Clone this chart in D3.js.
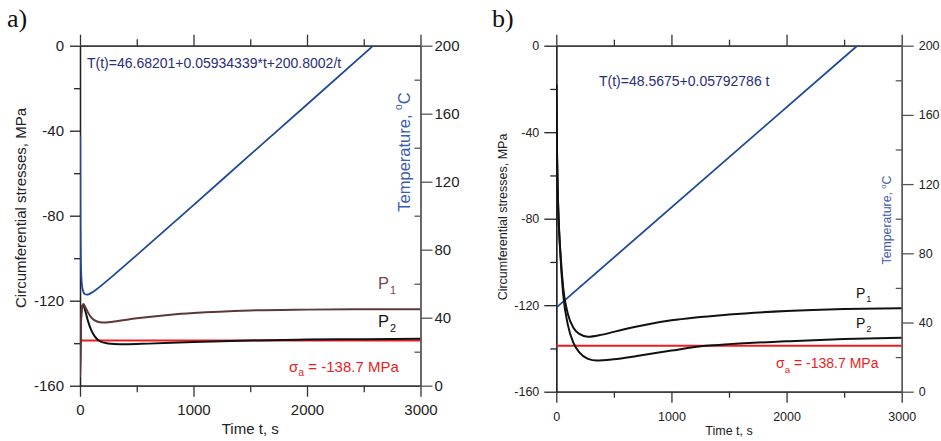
<!DOCTYPE html>
<html>
<head>
<meta charset="utf-8">
<script src="https://cdn.jsdelivr.net/npm/d3@7"></script>
<style>
  html, body { margin: 0; padding: 0; background: #fff; }
  svg { display: block; font-family: "Liberation Sans", Arial, sans-serif; }
</style>
</head>
<body>
<svg id="chart" width="941" height="441"></svg>
<script>
// ---- tick values ----
const timeMajor = [0, 1000, 2000, 3000];
const timeMinor = [500, 1500, 2500];
const stressMajor = [-160, -120, -80, -40, 0];
const stressMinor = [-140, -100, -60, -20];
const tempMajor = [0, 40, 80, 120, 160, 200];
const tempMinor = [20, 60, 100, 140, 180];

// allowable stress level, MPa
const sigmaA = -138.7;

// ---- panel a: temperature (°C) vs time (s) ----
const aTempTime = [2, 4, 7, 10, 15, 20, 30, 45, 60, 80, 100, 150, 200, 300, 500, 1000, 1500, 2000, 2584];
const aTemp     = [147.2, 97.1, 75.8, 67.3, 61.0, 57.9, 55.2, 53.8, 53.6, 53.9, 54.6, 56.9, 59.6, 65.2, 76.8, 106.2, 135.9, 165.4, 200];

// panel a: circumferential stresses (MPa)
const aP1Time = [0, 5, 10, 20, 30, 45, 70, 100, 150, 200, 300, 500, 800, 1000, 1500, 2000, 2500, 3000];
const aP1     = [-156, -140, -128, -122.5, -121.6, -122.8, -125.5, -128, -129.8, -130.3, -129.8, -128.3, -126.6, -125.8, -124.6, -124.2, -124.0, -124.0];
const aP2Time = [0, 5, 10, 20, 30, 45, 70, 100, 130, 160, 200, 300, 400, 600, 1000, 1500, 2000, 2500, 3000];
const aP2     = [-156, -140, -128, -122.5, -122.2, -124.5, -129.5, -134, -136.8, -138.5, -139.6, -140.4, -140.5, -140.2, -139.4, -138.7, -138.3, -138.1, -137.9];

// ---- panel b: temperature (°C) vs time (s) ----
const bTempTime = [0, 2614];
const bTemp     = [48.6, 200];

// panel b: circumferential stresses (MPa)
const bP1Time = [0, 3, 7, 12, 20, 35, 60, 100, 150, 200, 275, 400, 600, 800, 1000, 1500, 2000, 2500, 3000];
const bP1     = [-18, -35, -52, -66, -80, -95, -112, -124, -130.5, -133.3, -134.6, -133.6, -131, -128.8, -127, -124.3, -122.7, -121.8, -121.4];
const bP2Time = [0, 3, 7, 12, 20, 35, 60, 100, 150, 200, 275, 350, 500, 700, 1000, 1300, 1500, 2000, 2500, 3000];
const bP2     = [-18, -35, -52, -66, -80, -96, -115, -129, -137.5, -141.8, -144.8, -145.6, -145, -143.5, -141, -138.8, -138, -136.7, -135.6, -135];

// ---- drawing ----
const svg = d3.select("#chart");
svg.append("rect").attr("width", 941).attr("height", 441).attr("fill", "#fff");

const zip = (ts, vs) => ts.map((t, i) => [t, vs[i]]);
const plain = d => String(d);   // plain integers with ASCII hyphen

function drawPanel(cfg) {
  const x = d3.scaleLinear().domain([0, 3000]).range([cfg.left, cfg.right]);
  const y = d3.scaleLinear().domain([-160, 0]).range([cfg.bottom, cfg.top]);
  const yT = d3.scaleLinear().domain([0, 200]).range([cfg.bottom, cfg.top]);
  const g = svg.append("g");

  const clipId = "clip-" + cfg.name;
  svg.append("clipPath").attr("id", clipId)
    .append("rect").attr("x", cfg.left).attr("y", cfg.top)
    .attr("width", cfg.right - cfg.left).attr("height", cfg.bottom - cfg.top);

  const styleAxis = (sel, color) => {
    sel.selectAll("path.domain").attr("stroke", color).attr("stroke-width", 1.3);
    sel.selectAll(".tick line").attr("stroke", color).attr("stroke-width", 1.3);
    sel.selectAll(".tick text").attr("fill", "#222")
      .style("font-family", '"Liberation Sans", Arial, sans-serif')
      .style("font-size", cfg.tickFont + "px");
  };

  // bottom axis
  g.append("g").attr("transform", `translate(0,${cfg.bottom})`)
    .call(d3.axisBottom(x).tickValues(timeMajor).tickFormat(plain).tickSize(cfg.majX).tickSizeOuter(0).tickPadding(cfg.padX))
    .call(s => styleAxis(s, "#333"));
  g.append("g").attr("transform", `translate(0,${cfg.bottom})`)
    .call(d3.axisBottom(x).tickValues(timeMinor).tickSize(cfg.minX).tickSizeOuter(0).tickFormat(""))
    .call(s => styleAxis(s, "#333"));
  // top axis
  g.append("g").attr("transform", `translate(0,${cfg.top})`)
    .call(d3.axisTop(x).tickValues(timeMajor).tickSize(cfg.majX).tickSizeOuter(0).tickFormat(""))
    .call(s => styleAxis(s, "#333"));
  g.append("g").attr("transform", `translate(0,${cfg.top})`)
    .call(d3.axisTop(x).tickValues(timeMinor).tickSize(cfg.minX).tickSizeOuter(0).tickFormat(""))
    .call(s => styleAxis(s, "#333"));
  // left stress axis
  g.append("g").attr("transform", `translate(${cfg.left},0)`)
    .call(d3.axisLeft(y).tickValues(stressMajor).tickFormat(plain).tickSize(cfg.majY).tickSizeOuter(0).tickPadding(cfg.padL))
    .call(s => styleAxis(s, "#222"));
  g.append("g").attr("transform", `translate(${cfg.left},0)`)
    .call(d3.axisLeft(y).tickValues(stressMinor).tickSize(cfg.minY).tickSizeOuter(0).tickFormat(""))
    .call(s => styleAxis(s, "#222"));
  // right temperature axis (minor ticks point inward)
  g.append("g").attr("transform", `translate(${cfg.right},0)`)
    .call(d3.axisRight(yT).tickValues(tempMajor).tickFormat(plain).tickSize(cfg.majR).tickSizeOuter(0).tickPadding(cfg.padR))
    .call(s => styleAxis(s, "#555"));
  g.append("g").attr("transform", `translate(${cfg.right},0)`)
    .call(d3.axisLeft(yT).tickValues(tempMinor).tickSize(cfg.minY).tickSizeOuter(0).tickFormat(""))
    .call(s => styleAxis(s, "#555"));

  const plot = g.append("g").attr("clip-path", `url(#${clipId})`);
  const stressLine = d3.line().x(d => x(d[0])).y(d => y(d[1])).curve(d3.curveMonotoneX);
  const tempLine = d3.line().x(d => x(d[0])).y(d => yT(d[1])).curve(d3.curveMonotoneX);

  // temperature curve
  plot.append("path").datum(zip(cfg.tempTime, cfg.temp))
    .attr("fill", "none").attr("stroke", "#1f4a9a").attr("stroke-width", 1.8).attr("d", tempLine);
  // allowable stress
  plot.append("path").datum([[0, sigmaA], [3000, sigmaA]])
    .attr("fill", "none").attr("stroke", "#ec1c24").attr("stroke-width", 2).attr("d", stressLine);
  // stress curves
  plot.append("path").datum(zip(cfg.p2Time, cfg.p2))
    .attr("fill", "none").attr("stroke", "#111").attr("stroke-width", 2).attr("d", stressLine);
  plot.append("path").datum(zip(cfg.p1Time, cfg.p1))
    .attr("fill", "none").attr("stroke", cfg.p1Color).attr("stroke-width", 2).attr("d", stressLine);

  // axis titles
  g.append("text")
    .attr("transform", `translate(${cfg.yLabelX},${cfg.yLabelY}) rotate(-90)`)
    .attr("text-anchor", "middle").attr("dominant-baseline", "central")
    .attr("fill", "#222").style("font-size", cfg.titleFont + "px")
    .text("Circumferential stresses, MPa");
  g.append("text")
    .attr("x", (cfg.left + cfg.right) / 2).attr("y", cfg.xLabelY)
    .attr("text-anchor", "middle").attr("fill", "#222").style("font-size", cfg.titleFont + "px")
    .text("Time t, s");
  const tl = g.append("text")
    .attr("transform", `translate(${cfg.tLabelX},${cfg.tLabelY}) rotate(-90)`)
    .attr("text-anchor", "middle").attr("dominant-baseline", "central")
    .attr("fill", "#3a5bb0").style("font-size", cfg.tLabelFont + "px");
  tl.append("tspan").text("Temperature, ");
  tl.append("tspan").attr("dy", -cfg.tLabelFont * 0.35).style("font-size", (cfg.tLabelFont * 0.62) + "px").text("o");
  tl.append("tspan").attr("dy", cfg.tLabelFont * 0.35).text("C");

  // fitted temperature law
  g.append("text").attr("x", cfg.eqX).attr("y", cfg.eqY)
    .attr("fill", "#2a2d7c").style("font-size", cfg.eqFont + "px").text(cfg.eq);

  // series labels
  const pLabel = (sub, yy, color) => {
    const t = g.append("text").attr("x", cfg.pX).attr("y", yy)
      .attr("fill", color).style("font-size", cfg.pFont + "px");
    t.append("tspan").text("P");
    t.append("tspan").attr("dx", 1).attr("dy", cfg.pFont * 0.3)
      .style("font-size", (cfg.pFont * 0.66) + "px").text(sub);
  };
  pLabel("1", cfg.p1LabelY, cfg.p1LabelColor);
  pLabel("2", cfg.p2LabelY, "#111");

  const sl = g.append("text").attr("x", cfg.sX).attr("y", cfg.sY)
    .attr("fill", "#ec1c24").style("font-size", cfg.sFont + "px");
  sl.append("tspan").text("σ");
  sl.append("tspan").attr("dy", cfg.sFont * 0.3).style("font-size", (cfg.sFont * 0.7) + "px").text("a");
  sl.append("tspan").attr("dy", -cfg.sFont * 0.3).text(` = ${sigmaA} MPa`);

  // panel letter
  svg.append("text").attr("x", cfg.letterX).attr("y", 27)
    .style("font-family", '"Liberation Serif", "Times New Roman", serif')
    .style("font-size", "26px").attr("fill", "#111").text(cfg.letter);
}

drawPanel({
  name: "a", letter: "a)", letterX: 7,
  left: 80, right: 420.5, top: 45.7, bottom: 385.7,
  majX: 11, minX: 6.5, majY: 10, minY: 6, majR: 12, padX: 8, padL: 6, padR: 2,
  tickFont: 15, titleFont: 15,
  yLabelX: 20, yLabelY: 208, xLabelY: 434,
  tLabelX: 404, tLabelY: 152, tLabelFont: 16.5,
  eq: "T(t)=46.68201+0.05934339*t+200.8002/t", eqX: 87, eqY: 67.5, eqFont: 14,
  tempTime: aTempTime, temp: aTemp,
  p1Time: aP1Time, p1: aP1, p2Time: aP2Time, p2: aP2,
  p1Color: "#5e3838", p1LabelColor: "#7a4646",
  pX: 378, pFont: 16.5, p1LabelY: 289, p2LabelY: 327,
  sX: 289, sY: 371.7, sFont: 15
});

drawPanel({
  name: "b", letter: "b)", letterX: 492,
  left: 556.3, right: 901.7, top: 45.7, bottom: 391.7,
  majX: 11, minX: 6, majY: 12, minY: 6, majR: 12, padX: 9, padL: 5, padR: 5,
  tickFont: 12.5, titleFont: 12.5,
  yLabelX: 503, yLabelY: 217, xLabelY: 435,
  tLabelX: 887, tLabelY: 220, tLabelFont: 12.3,
  eq: "T(t)=48.5675+0.05792786 t", eqX: 599, eqY: 85.5, eqFont: 14,
  tempTime: bTempTime, temp: bTemp,
  p1Time: bP1Time, p1: bP1, p2Time: bP2Time, p2: bP2,
  p1Color: "#111", p1LabelColor: "#111",
  pX: 856, pFont: 14, p1LabelY: 298, p2LabelY: 328,
  sX: 776, sY: 368.3, sFont: 14
});
</script>
</body>
</html>
